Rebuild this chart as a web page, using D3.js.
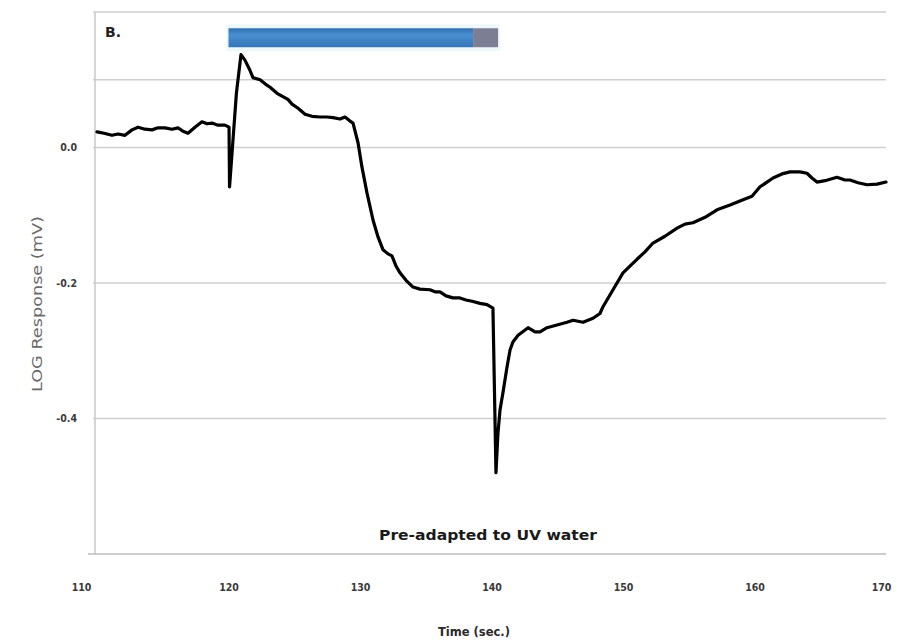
<!DOCTYPE html>
<html><head><meta charset="utf-8">
<script src="https://cdn.jsdelivr.net/npm/d3@7/dist/d3.min.js"></script>
<style>body{margin:0;background:#fff}svg{display:block}</style>
</head><body><svg id="c" width="907" height="642"></svg>
<script>
const time = [110,110.53,111.14,111.6,112.13,112.66,113.12,113.65,114.18,114.64,115.17,115.7,116.16,116.54,116.92,117.45,117.98,118.37,118.75,119.2,119.73,120.04,120.08,120.3,120.6,120.95,121.25,121.63,121.86,122.4,122.78,123.16,123.69,124.14,124.52,124.83,125.29,125.82,126.35,126.96,127.49,127.95,128.48,128.86,129.24,129.47,129.85,130.15,130.53,130.99,131.37,131.75,132.13,132.43,132.74,133.04,133.5,134.03,134.56,135.32,135.7,136.08,136.54,137.07,137.6,138.06,138.52,139.13,139.66,140.11,140.34,140.49,140.65,140.87,141.18,141.41,141.63,142.02,142.78,143.31,143.69,144.22,144.98,145.74,146.2,146.96,147.72,148.25,148.48,149.24,150,151.06,151.67,152.28,153.19,154.11,154.71,155.32,156.24,157.15,158.14,159.13,159.81,160.42,160.95,161.41,162.09,162.7,163.46,163.99,164.37,164.75,165.36,166.27,166.88,167.26,167.87,168.56,169.32,170];
const response = [0.023,0.021,0.018,0.020,0.018,0.026,0.030,0.027,0.026,0.029,0.029,0.027,0.029,0.024,0.021,0.030,0.038,0.035,0.036,0.033,0.033,0.030,-0.058,0.0,0.08,0.137,0.129,0.114,0.103,0.100,0.094,0.089,0.080,0.075,0.071,0.064,0.058,0.049,0.046,0.045,0.045,0.044,0.042,0.045,0.039,0.036,0.007,-0.029,-0.067,-0.107,-0.132,-0.151,-0.157,-0.160,-0.175,-0.185,-0.196,-0.206,-0.209,-0.210,-0.213,-0.213,-0.219,-0.222,-0.222,-0.225,-0.227,-0.230,-0.232,-0.237,-0.480,-0.422,-0.387,-0.362,-0.324,-0.299,-0.287,-0.277,-0.266,-0.272,-0.272,-0.266,-0.262,-0.258,-0.255,-0.258,-0.252,-0.245,-0.235,-0.210,-0.185,-0.165,-0.154,-0.141,-0.131,-0.119,-0.113,-0.111,-0.103,-0.092,-0.085,-0.077,-0.072,-0.058,-0.051,-0.045,-0.039,-0.036,-0.036,-0.038,-0.045,-0.051,-0.049,-0.044,-0.048,-0.048,-0.052,-0.055,-0.054,-0.051];
const xTicks = [110,120,130,140,150,160,170];
const yTickValues = [0.0,-0.2,-0.4];
const yTickLabels = ["0.0","-0.2","-0.4"];
const yGrid = [0.2,0.1,0.0,-0.2,-0.4];
const stimulus = [120,138.6];
const wash = [138.6,140.5];
const barValues = [0.176,0.148];

const svg = d3.select("#c");
const x = d3.scaleLinear().domain([110,170]).range([97,886]);
const y = d3.scaleLinear().domain([-0.6,0.2]).range([554,12]);

// gridlines
svg.append("g").selectAll("line").data(yGrid).join("line")
  .attr("x1",93).attr("x2",886).attr("y1",d=>y(d)).attr("y2",d=>y(d))
  .attr("stroke","#cfcfcf").attr("stroke-width",1.5);

// left axis line & bottom axis
svg.append("line").attr("x1",95).attr("x2",95).attr("y1",y(0.2)).attr("y2",y(-0.6))
  .attr("stroke","#c8c8c8").attr("stroke-width",1.5);
const xAxis = svg.append("g").attr("transform",`translate(0,${y(-0.6)})`)
  .call(d3.axisBottom(x).tickValues(xTicks).tickSize(0).tickPadding(30).tickFormat(d3.format("d")));
xAxis.select(".domain").attr("stroke","#bdbdbd").attr("stroke-width",1.5).attr("d","M88,0H886");
xAxis.selectAll("text").attr("font-family","DejaVu Sans Condensed").attr("font-weight","bold")
  .attr("font-size",10.5).attr("fill","#3a3a3a");
xAxis.selectAll(".tick").filter(d=>d===110).select("text").attr("dx",-16);
xAxis.selectAll(".tick").filter(d=>d===170).select("text").attr("dx",-5);

const yAxis = svg.append("g").attr("transform","translate(77,0)")
  .call(d3.axisLeft(y).tickValues(yTickValues).tickSize(0).tickPadding(0)
    .tickFormat((d,i)=>yTickLabels[i]));
yAxis.select(".domain").remove();
yAxis.selectAll("text").attr("font-family","DejaVu Sans Condensed").attr("font-weight","bold")
  .attr("font-size",10.5).attr("fill","#3a3a3a");

// stimulus bar
const defs = svg.append("defs");
const g = defs.append("linearGradient").attr("id","blu").attr("x1",0).attr("x2",0).attr("y1",0).attr("y2",1);
g.append("stop").attr("offset","0%").attr("stop-color","#2f6fae");
g.append("stop").attr("offset","35%").attr("stop-color","#4a8fd0");
g.append("stop").attr("offset","100%").attr("stop-color","#3576b8");
svg.append("rect").attr("x",x(stimulus[0])-2).attr("y",y(barValues[0])-4)
  .attr("width",x(wash[1])-x(stimulus[0])+4).attr("height",y(barValues[1])-y(barValues[0])+8)
  .attr("fill","#eef8fb");
svg.append("rect").attr("x",x(stimulus[0])).attr("y",y(barValues[0]))
  .attr("width",x(stimulus[1])-x(stimulus[0])).attr("height",y(barValues[1])-y(barValues[0]))
  .attr("fill","url(#blu)");
svg.append("rect").attr("x",x(wash[0])).attr("y",y(barValues[0]))
  .attr("width",x(wash[1])-x(wash[0])).attr("height",y(barValues[1])-y(barValues[0]))
  .attr("fill","#7c7e94");

// trace
const pts = time.map((t,i)=>[t,response[i]]);
svg.append("path").datum(pts)
  .attr("d",d3.line().x(d=>x(d[0])).y(d=>y(d[1])))
  .attr("fill","none").attr("stroke","#000").attr("stroke-width",3.2)
  .attr("stroke-linejoin","round").attr("stroke-linecap","round");

// texts
svg.append("text").attr("x",105).attr("y",37).text("B.")
  .attr("font-family","DejaVu Sans").attr("font-weight","bold").attr("font-size",14).attr("fill","#222");
svg.append("text").attr("x",488).attr("y",540).attr("text-anchor","middle").text("Pre-adapted to UV water")
  .attr("font-family","DejaVu Sans Condensed").attr("font-weight","bold").attr("font-size",14)
  .attr("textLength",218).attr("lengthAdjust","spacingAndGlyphs").attr("fill","#1a1a1a");
svg.append("text").attr("x",474).attr("y",636).attr("text-anchor","middle").text("Time (sec.)")
  .attr("font-family","DejaVu Sans Condensed").attr("font-weight","bold").attr("font-size",12)
  .attr("textLength",72).attr("lengthAdjust","spacingAndGlyphs").attr("fill","#2a2a2a");
svg.append("text").attr("transform","translate(42,304) rotate(-90)").attr("text-anchor","middle")
  .text("LOG Response (mV)").attr("font-family","DejaVu Sans Condensed")
  .attr("font-size",14).attr("textLength",176).attr("lengthAdjust","spacingAndGlyphs").attr("fill","#6a6a6a");
</script></body></html>
